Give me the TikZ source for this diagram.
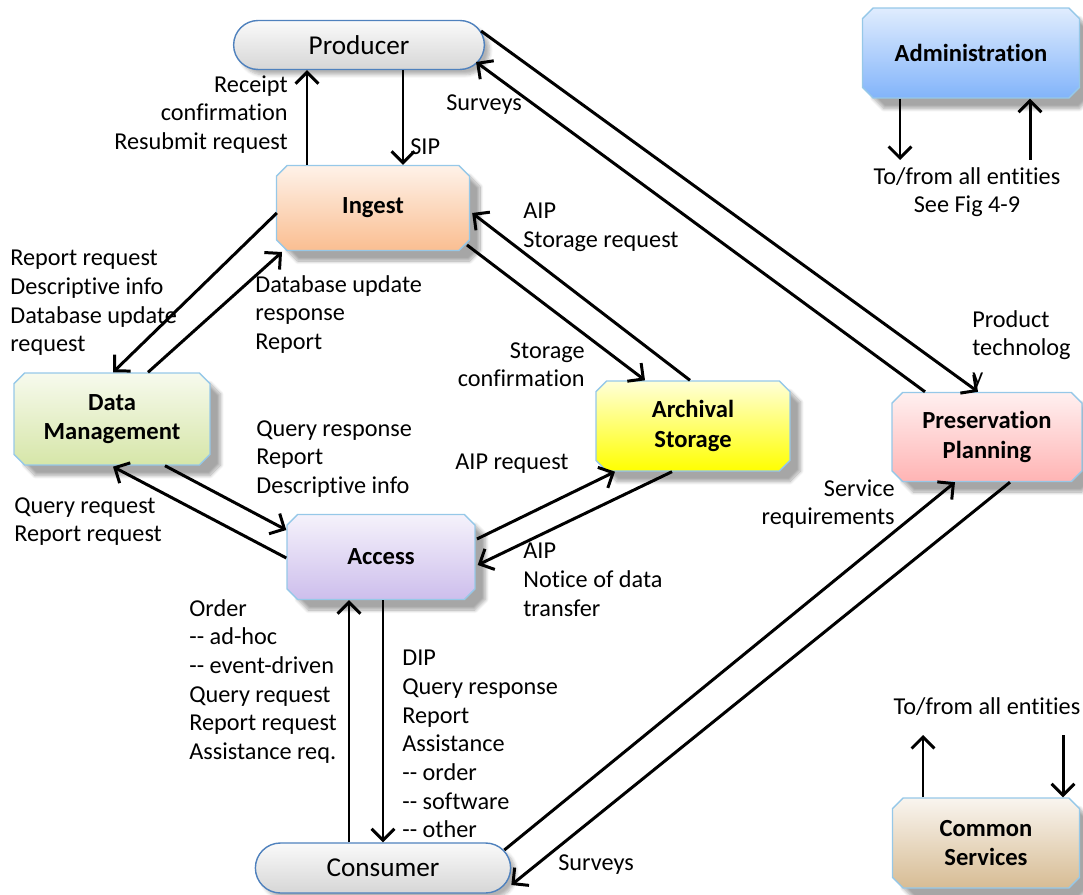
\documentclass[tikz,border=0pt]{standalone}
\usepackage{fontspec}
\setmainfont{Carlito}[Ligatures={TeX,NoCommon}]
\usetikzlibrary{shapes.misc, arrows.meta, calc, shadows.blur}

\definecolor{edgeblue}{RGB}{150,200,232}
\definecolor{pillblue}{RGB}{79,129,189}
\definecolor{ingestc}{RGB}{250,190,145}
\definecolor{dmc}{RGB}{214,230,168}
\definecolor{archc}{RGB}{255,255,0}
\definecolor{presc}{RGB}{255,180,180}
\definecolor{adminc}{RGB}{130,180,250}
\definecolor{accessc}{RGB}{205,190,236}
\definecolor{commonc}{RGB}{215,188,148}

\tikzstyle{entity} = [chamfered rectangle,
chamfered rectangle xsep=3pt,
chamfered rectangle ysep=3pt,
minimum width=3.8cm,
minimum height=1.76cm,
text centered,
align=center,
draw=edgeblue,
line width=0.8pt,
blur shadow={shadow blur steps=10, shadow xshift=6pt, shadow yshift=-6pt, shadow opacity=35},
font=\fontsize{14}{16.6}\selectfont\bfseries]

\tikzstyle{party} = [rounded rectangle,
minimum width=5.25cm,
minimum height=0.98cm,
text centered,
draw=pillblue,
line width=0.8pt,
top color=gray!4,
bottom color=gray!32,
font=\fontsize{15.5}{18}\selectfont,
blur shadow={shadow blur steps=6, shadow xshift=3pt, shadow yshift=-3pt, shadow opacity=30}]

\tikzstyle{flow} = [inner sep=0pt]

\tikzstyle{arrow} = [line width=1.7pt,-{Straight Barb[length=6.5pt,width=13pt,line width=1.7pt]}]

\newcommand{\dd}{-{}-}

\begin{document}
\begin{tikzpicture}[x=0.02cm, y=-0.02cm, every node/.style={font=\fontsize{13.8}{16.3}\selectfont}]
\useasboundingbox (0,0) rectangle (1083,895);

% Nodes
\node (prod) [party] at (359,45) {Producer};
\node (cons) [party, minimum width=5.34cm, minimum height=1cm] at (383,868) {Consumer};

\node (admin) [entity, minimum width=4.34cm, minimum height=1.8cm, top color=adminc!25, bottom color=adminc] at (971,53) {Administration};
\node (ingest) [entity, minimum width=3.86cm, minimum height=1.7cm, top color=ingestc!20, bottom color=ingestc] at (373,208) {Ingest};
\node (dm) [entity, minimum width=3.92cm, minimum height=1.84cm, top color=dmc!20, bottom color=dmc] at (112,419) {Data\\Management};
\node (arch) [entity, minimum width=3.88cm, minimum height=1.8cm, top color=archc!15, bottom color=archc] at (693,426) {Archival\\Storage};
\node (pres) [entity, minimum width=3.8cm, minimum height=1.78cm, top color=presc!20, bottom color=presc] at (987,437) {Preservation\\Planning};
\node (access) [entity, minimum width=3.76cm, minimum height=1.7cm, top color=accessc!20, bottom color=accessc] at (381,557) {Access};
\node (common) [entity, minimum width=3.74cm, minimum height=1.8cm, top color=commonc!15, bottom color=commonc] at (986,843) {Common\\Services};

% Loose ends of the "all entities" arrows
\coordinate (adminout) at (900,160);
\coordinate (adminin) at (1030,160);
\coordinate (commonout) at (923,735);
\coordinate (commonin) at (1063,735);

% Labels
\node (rcpt) [flow, anchor=north east, align=right] at (288,75) {Receipt\\confirmation\\Resubmit request};
\node (sip) [flow, anchor=west] at (410,147) {SIP};
\node (surveysp) [flow, anchor=west] at (446,105) {Surveys};
\node (aipsr) [flow, anchor=north west, align=left] at (523,203) {AIP\\Storage request};
\node (stconf) [flow, anchor=north east, align=right] at (585,342) {Storage\\confirmation};
\node (dmreq) [flow, anchor=north west, align=left] at (10,250) {Report request\\Descriptive info\\Database update\\request};
\node (dbresp) [flow, anchor=north west, align=left] at (255,275) {Database update\\response\\Report};
\node (qresp) [flow, anchor=north west, align=left] at (256,420) {Query response\\Report\\Descriptive info};
\node (qreq) [flow, anchor=north west, align=left] at (14,497) {Query request\\Report request};
\node (aipreq) [flow, anchor=west] at (455,464) {AIP request};
\node (aipnot) [flow, anchor=north west, align=left] at (523,543) {AIP\\Notice of data\\transfer};
\node (order) [flow, anchor=north west, align=left] at (189,599) {Order\\\dd{} ad-hoc\\\dd{} event-driven\\Query request\\Report request\\Assistance req.};
\node (dip) [flow, anchor=north west, align=left] at (402,650) {DIP\\Query response\\Report\\Assistance\\\dd{} order\\\dd{} software\\\dd{} other};
\node (servreq) [flow, anchor=north east, align=right] at (895,479) {Service\\requirements};
\node (surveysc) [flow, anchor=west] at (558,865) {Surveys};
\node (prodtech) [flow, anchor=north west, align=left] at (972,310) {Product\\technolog\\y};
\node (adminlbl) [flow, anchor=north, align=center] at (967,167) {To/from all entities\\See Fig 4-9};
\node (commonlbl) [flow] at (987,707) {To/from all entities};

% Connections
\draw [arrow] ($(prod.south)+(44,0)$) -- ($(ingest.north)+(30,0)$);
\draw [arrow] ($(ingest.north)+(-66,0)$) -- ($(prod.south)+(-52,0)$);

\draw [arrow] ($(prod.east)+(-4,-14)$) -- ($(pres.north)+(-9,0)$);
\draw [arrow] ($(pres.north)+(-62,0)$) -- ($(prod.east)+(-9,17)$);

\draw [arrow] ($(arch.north)+(-3,0)$) -- ($(ingest.east)+(2,5)$);
\draw [arrow] ($(ingest.center)+(94,37)$) -- ($(arch.north)+(-48,0)$);

\draw [arrow] ($(ingest.west)+(1,5)$) -- ($(dm.north)+(1,0)$);
\draw [arrow] ($(dm.north)+(36,0)$) -- ($(ingest.center)+(-91,44)$);

\draw [arrow] ($(dm.south)+(53,0)$) -- ($(access.west)+(0,-27)$);
\draw [arrow] ($(access.west)+(0,1)$) -- ($(dm.south)+(1,1)$);

\draw [arrow] ($(access.center)+(96,-18)$) -- ($(arch.south)+(-78,0)$);
\draw [arrow] ($(arch.south)+(-21,0)$) -- ($(access.east)+(2,8)$);

\draw [arrow] ($(cons.north)+(-34,0)$) -- ($(access.south)+(-32,0)$);
\draw [arrow] ($(access.south)+(2,0)$) -- (cons.north);

\draw [arrow] ($(cons.east)+(-7,-18)$) -- ($(pres.south)+(-32,0)$);
\draw [arrow] ($(pres.south)+(23,0)$) -- ($(cons.east)+(0,17)$);

\draw [arrow] ($(admin.south)+(-71,0)$) -- (adminout);
\draw [arrow] (adminin) -- ($(admin.south)+(59,0)$);

\draw [arrow] ($(common.north)+(-63,0)$) -- (commonout);
\draw [arrow] (commonin) -- ($(common.north)+(77,0)$);

\end{tikzpicture}
\end{document}
